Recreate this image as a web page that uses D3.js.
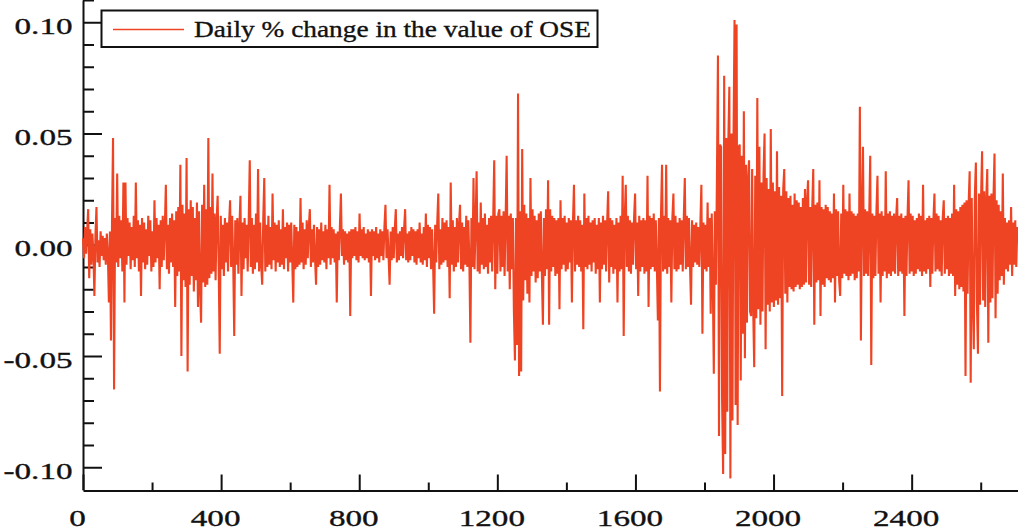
<!DOCTYPE html>
<html>
<head>
<meta charset="utf-8">
<script src="https://cdn.jsdelivr.net/npm/d3@7"></script>
<style>
  html, body { margin: 0; padding: 0; background: #fff; }
  svg { display: block; }
</style>
</head>
<body>
<svg id="chart" width="1018" height="530"></svg>
<script>
// Daily change of the OSE index, in thousandths, one value every third trading day
const dailyChange = [
  3,-6,8,-4,6,16,-15,7,-9,5,-3,-23,4,17,-8,2,-10,6,-5,4,
  -7,3,-9,5,-4,-26,6,-43,10,48,-65,12,-8,32,-10,13,-6,11,-12,28,
  -26,28,-9,12,-5,10,-11,8,-7,13,-10,28,-6,11,-12,9,-23,12,-8,10,
  -11,7,-9,13,-5,11,-12,6,-10,20,-8,12,-6,9,-20,11,-10,13,-7,8,
  27,-11,9,-13,12,-8,14,-10,11,-28,15,-14,17,-12,36,-50,18,-16,14,-19,
  39,-57,16,-18,20,-14,17,-21,12,-16,19,-28,15,-20,-35,18,-17,27,-19,16,
  -18,48,-15,17,-13,32,-12,14,-16,11,22,-10,-49,13,-11,9,-14,12,-8,10,
  -12,9,20,-10,13,-7,-41,11,-9,12,-13,8,22,-23,10,-11,12,-6,9,-12,
  11,38,-10,12,-13,9,-11,14,-8,34,-12,10,-9,-18,11,30,-12,9,-10,13,
  -9,8,-11,23,-7,10,-12,9,-8,11,-10,7,-9,16,-11,8,-6,10,-12,9,
  -8,10,-7,-26,9,-11,8,-10,6,-9,21,-8,10,-11,7,-9,11,-6,8,16,
  -10,7,-8,9,-6,-18,8,-10,7,-9,10,-7,6,-8,9,-11,7,-6,27,-9,
  8,-6,7,-8,5,-26,6,-7,8,23,-5,7,-9,6,-7,5,-8,6,-32,7,
  -6,7,-5,8,-7,6,-8,14,-5,7,-6,8,-7,5,-6,7,-8,6,-23,7,
  -5,6,-7,8,-6,5,-8,7,-5,6,-7,8,18,-6,7,-5,-18,6,-7,8,
  -6,7,16,-8,5,-7,6,-5,8,-6,7,16,-7,5,-8,6,-7,8,-5,7,
  -8,6,-9,7,-6,10,-8,5,-9,8,-7,14,-10,9,-6,8,-11,7,-9,-31,
  9,-8,10,23,-11,7,-9,12,-8,10,-7,11,-10,8,-24,28,-9,11,-12,8,
  -10,12,-8,9,18,-11,10,-12,8,-9,13,-10,11,-7,-44,12,-10,30,-11,9,
  33,-12,10,-13,19,-9,12,-11,14,-10,9,-13,12,-8,13,-12,11,38,-20,13,
  -13,14,16,-12,13,-10,15,-14,11,40,-12,13,-20,14,-11,12,-30,-52,12,-45,
  68,-59,15,-57,43,-25,18,-16,14,-22,12,-26,30,-14,16,-12,13,-17,11,-15,
  14,-12,15,-13,-36,12,-14,16,-11,29,-36,16,-12,13,-10,12,-14,11,-13,12,
  -29,20,-11,12,-9,13,-12,10,-11,12,-8,11,-26,10,27,-12,11,-9,13,-10,
  11,-12,9,-38,23,-10,12,-11,13,-9,10,-12,11,-8,12,-13,9,-11,12,-26,
  10,-11,13,-9,11,-12,10,24,-17,12,-10,11,-13,9,-11,12,-26,10,-12,13,
  -11,31,-41,12,27,-10,13,-12,11,-13,10,-9,12,23,-11,10,-23,13,-12,11,
  -10,12,-13,11,-12,31,-28,13,-11,12,-10,14,-12,11,-9,-34,12,-66,13,36,
  -12,13,-11,36,-13,12,-10,11,-26,12,23,-11,13,-12,10,-11,12,-9,11,-12,
  12,30,-11,13,-10,12,-9,-27,11,-10,9,-8,10,-9,8,-10,9,27,-40,10,
  -11,9,-12,19,-10,12,-31,14,-16,-58,15,-18,30,85,-86,45,44,-70,-103,76,
  -94,48,-75,46,71,-105,50,-79,47,101,-72,99,-81,44,45,-61,40,-40,60,-51,
  36,-35,30,38,-30,-32,34,-28,-55,31,-33,66,-29,44,-36,28,-30,32,50,-47,
  30,-27,25,-30,52,-26,28,-28,24,-25,42,-27,26,-24,22,-68,25,34,-22,24,
  -26,21,-19,22,-20,18,-21,23,-19,20,-18,19,-20,17,-19,21,-18,25,-17,20,
  29,-18,17,-19,16,34,-36,18,-17,19,-16,29,-32,17,-18,16,-19,18,-15,17,
  -16,15,-17,14,-15,23,-26,16,-14,15,-16,-23,14,-15,27,-13,16,-14,15,-16,
  23,-14,15,-13,14,-16,13,-15,14,-12,62,-43,15,44,-14,16,-13,15,-14,12,
  40,-54,14,-15,13,-14,15,31,-13,14,-26,15,-14,13,-12,33,-15,14,-13,15,
  -14,13,-12,14,-13,12,21,-14,13,-12,14,-13,12,-32,13,-14,12,29,-13,14,
  -12,13,-14,11,-13,12,-11,14,-12,13,-14,27,-12,11,-13,12,-11,13,-19,12,
  -13,11,23,-12,14,-11,13,-12,11,-14,12,20,-13,12,-11,13,-14,12,-13,14,
  -14,27,-23,16,-18,15,-20,17,-19,18,-21,19,-59,20,-22,18,33,-62,21,-24,
  -47,22,37,-26,-49,23,-27,21,42,-25,24,-28,20,34,-44,22,-26,23,-24,21,
  41,-33,20,-22,18,-16,15,-14,32,-18,12,-11,10,-12,11,-9,17,-14,10,-9,
  11,-10,8
];
const dayStep = 3;

const xMajorTicks = [0, 400, 800, 1200, 1600, 2000, 2400];
const xMinorTicks = [200, 600, 1000, 1400, 1800, 2200, 2600];
const yMajorTicks = [0.10, 0.05, 0.00, -0.05, -0.10];
const yMinorTicks = [0.11, 0.09, 0.08, 0.07, 0.06, 0.04, 0.03, 0.02, 0.01,
                     -0.01, -0.02, -0.03, -0.04, -0.06, -0.07, -0.08, -0.09];
const seriesLabel = "Daily % change in the value of OSE";

const lineColor = "#ef4423";
const inkColor = "#111";
const fontFamily = "'Liberation Serif', 'Times New Roman', serif";

const svg = d3.select("#chart");
const plot = { left: 83, right: 1018, top: 0, bottom: 489.5 };

const x = d3.scaleLinear().domain([0, 2708]).range([plot.left, plot.right]);
const y = d3.scaleLinear().domain([-0.11, 0.11]).range([plot.bottom, plot.top]);

const fmt = v => v.toFixed(2);

// shared look for every label
const labelStyle = sel => sel
  .attr("fill", inkColor)
  .attr("stroke", inkColor)
  .attr("stroke-width", 0.35)
  .style("font-family", fontFamily)
  .style("font-size", "24px");

// minor ticks
svg.append("g")
  .attr("transform", `translate(${plot.left},0)`)
  .call(d3.axisLeft(y).tickValues(yMinorTicks).tickSize(-11).tickSizeOuter(0).tickFormat(() => ""))
  .call(g => g.select(".domain").remove())
  .call(g => g.selectAll("line").attr("stroke", inkColor).attr("stroke-width", 2));

svg.append("g")
  .attr("transform", `translate(0,${plot.bottom + 1})`)
  .call(d3.axisBottom(x).tickValues(xMinorTicks).tickSize(-8).tickSizeOuter(0).tickFormat(() => ""))
  .call(g => g.select(".domain").remove())
  .call(g => g.selectAll("line").attr("stroke", inkColor).attr("stroke-width", 2));

// major ticks with labels
const yAxis = svg.append("g")
  .attr("transform", `translate(${plot.left},0)`)
  .call(d3.axisLeft(y).tickValues(yMajorTicks).tickSize(-19).tickSizeOuter(0).tickPadding(10).tickFormat(fmt));
yAxis.select(".domain").attr("stroke", inkColor).attr("stroke-width", 2);
yAxis.selectAll(".tick line").attr("stroke", inkColor).attr("stroke-width", 2);
yAxis.selectAll(".tick text")
  .attr("x", 0)
  .attr("dy", 11)
  .attr("transform", "translate(-10.5,0) scale(1.38,1)")
  .call(labelStyle);

const xAxis = svg.append("g")
  .attr("transform", `translate(0,${plot.bottom + 1})`)
  .call(d3.axisBottom(x).tickValues(xMajorTicks).tickSize(-16).tickSizeOuter(0).tickPadding(18).tickFormat(d3.format("d")));
xAxis.select(".domain").attr("stroke", inkColor).attr("stroke-width", 2);
xAxis.selectAll(".tick line").attr("stroke", inkColor).attr("stroke-width", 2);
xAxis.selectAll(".tick text")
  .attr("x", 0)
  .attr("transform", "translate(-6,0) scale(1.38,1)")
  .call(labelStyle);

// the series
const line = d3.line()
  .x((d, i) => x(i * dayStep))
  .y(d => y(d / 1000));

svg.append("path")
  .datum(dailyChange)
  .attr("d", line)
  .attr("fill", "none")
  .attr("stroke", lineColor)
  .attr("stroke-width", 2.1)
  .attr("stroke-linejoin", "bevel");

// legend
const legend = svg.append("g");
legend.append("rect")
  .attr("x", 101.5).attr("y", 10.5)
  .attr("width", 496).attr("height", 36.5)
  .attr("fill", "#fff")
  .attr("stroke", inkColor)
  .attr("stroke-width", 2);
legend.append("line")
  .attr("x1", 113).attr("x2", 184)
  .attr("y1", 29.5).attr("y2", 29.5)
  .attr("stroke", lineColor)
  .attr("stroke-width", 1.5);
legend.append("text")
  .attr("x", 194).attr("y", 37)
  .attr("textLength", 397)
  .attr("lengthAdjust", "spacingAndGlyphs")
  .call(labelStyle)
  .text(seriesLabel);
</script>
</body>
</html>
